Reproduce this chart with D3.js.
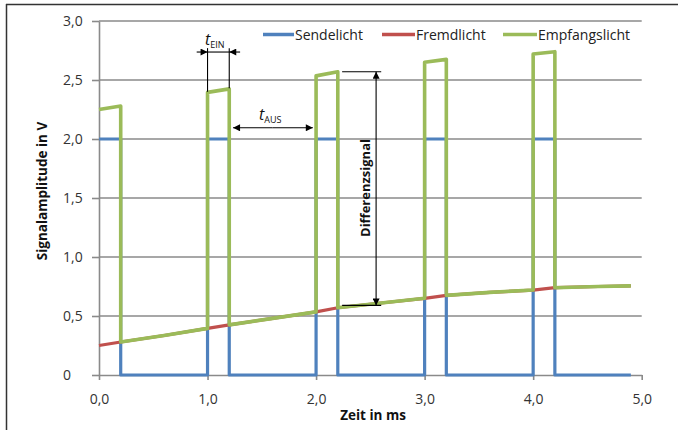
<!DOCTYPE html>
<html><head><meta charset="utf-8">
<script src="https://cdn.jsdelivr.net/npm/d3@7"></script>
<style>
html,body{margin:0;padding:0;background:#fff;}
svg text{font-family:"Open Sans",sans-serif;}
</style></head>
<body><svg id="c" width="678" height="430"></svg>
<script>
// ---- data ----
const seriesNames = ["Sendelicht", "Fremdlicht", "Empfangslicht"];
const seriesColors = ["#4F81BD", "#C0504D", "#9BBB59"];

const sendeT = [0, 0.2, 0.2, 1.0, 1.0, 1.2, 1.2, 2.0, 2.0, 2.2, 2.2, 3.0, 3.0, 3.2, 3.2, 4.0, 4.0, 4.2, 4.2, 4.9];
const sendeV = [2, 2, 0, 0, 2, 2, 0, 0, 2, 2, 0, 0, 2, 2, 0, 0, 2, 2, 0, 0];

const fremdT = [0, 0.2, 0.6, 1.0, 1.2, 1.6, 2.0, 2.2, 2.6, 3.0, 3.2, 3.6, 4.0, 4.2, 4.6, 4.9];
const fremdV = [0.25, 0.28, 0.335, 0.395, 0.425, 0.48, 0.535, 0.57, 0.61, 0.65, 0.675, 0.70, 0.72, 0.74, 0.75, 0.755];

const empfT = [0, 0.2, 0.2, 0.6, 1.0, 1.0, 1.2, 1.2, 1.6, 2.0, 2.0, 2.2, 2.2, 2.6, 3.0, 3.0, 3.2, 3.2, 3.6, 4.0, 4.0, 4.2, 4.2, 4.6, 4.9];
const empfV = [2.25, 2.28, 0.28, 0.335, 0.395, 2.395, 2.425, 0.425, 0.48, 0.535, 2.535, 2.57, 0.57, 0.61, 0.65, 2.65, 2.675, 0.675, 0.70, 0.72, 2.72, 2.74, 0.74, 0.75, 0.755];

const xTicks = [0, 1, 2, 3, 4, 5];
const xTickLabels = ["0,0", "1,0", "2,0", "3,0", "4,0", "5,0"];
const yTicks = [0, 0.5, 1.0, 1.5, 2.0, 2.5, 3.0];
const yTickLabels = ["0", "0,5", "1,0", "1,5", "2,0", "2,5", "3,0"];

const xTitle = "Zeit in ms";
const yTitle = "Signalamplitude in V";

// ---- layout ----
const svg = d3.select("#c");
const L = 99, R = 641.7, T = 21, B = 375;
const x = d3.scaleLinear().domain([0, 5]).range([L, R]);
const y = d3.scaleLinear().domain([0, 3]).range([B, T]);

// outer frame (top + left)
svg.append("line").attr("x1", 6).attr("x2", 678).attr("y1", 4.5).attr("y2", 4.5)
  .attr("stroke", "#333").attr("stroke-width", 1.5);
svg.append("line").attr("x1", 6.5).attr("x2", 6.5).attr("y1", 4).attr("y2", 430)
  .attr("stroke", "#333").attr("stroke-width", 1.5);

// gridlines
const gridColor = "#8a8a8a";
svg.append("g").selectAll("line").data(yTicks.filter(d => d > 0)).join("line")
  .attr("x1", L).attr("x2", R).attr("y1", d => y(d)).attr("y2", d => y(d))
  .attr("stroke", gridColor).attr("stroke-width", 1.6);

// y axis
const yAxis = svg.append("g").attr("transform", `translate(${L},0)`)
  .call(d3.axisLeft(y).tickValues(yTicks).tickSize(7).tickSizeOuter(0)
    .tickFormat((d, i) => yTickLabels[i]));
yAxis.select(".domain").attr("stroke", gridColor).attr("stroke-width", 1.6);
yAxis.selectAll(".tick line").attr("stroke", gridColor).attr("stroke-width", 1.6);
yAxis.selectAll(".tick text").attr("text-anchor", "start").attr("x", 63 - L)
  .attr("font-size", 14).attr("fill", "#333").attr("font-family", "Open Sans");

// x axis
const xAxis = svg.append("g").attr("transform", `translate(0,${B})`)
  .call(d3.axisBottom(x).tickValues(xTicks).tickSize(5).tickSizeOuter(0)
    .tickFormat((d, i) => xTickLabels[i]));
xAxis.select(".domain").attr("stroke", gridColor).attr("stroke-width", 1.6);
xAxis.selectAll(".tick line").attr("stroke", gridColor).attr("stroke-width", 1.6);
xAxis.selectAll(".tick text").attr("y", 19).attr("font-size", 14).attr("fill", "#333")
  .attr("font-family", "Open Sans");

// series
const line = d3.line().x(d => x(d[0])).y(d => y(d[1]));
const series = [
  d3.zip(sendeT, sendeV),
  d3.zip(fremdT, fremdV),
  d3.zip(empfT, empfV)
];
const widths = [3.2, 3.2, 3.6];
series.forEach((s, i) => {
  svg.append("path").datum(s).attr("d", line)
    .attr("fill", "none").attr("stroke", seriesColors[i]).attr("stroke-width", widths[i])
    .attr("stroke-linejoin", "round").attr("stroke-linecap", "butt");
});

// legend
const legendX = [263, 382, 503];
const legendW = [31, 33, 34];
seriesNames.forEach((n, i) => {
  svg.append("line").attr("x1", legendX[i]).attr("x2", legendX[i] + legendW[i])
    .attr("y1", 34.5).attr("y2", 34.5).attr("stroke", seriesColors[i]).attr("stroke-width", 3.5);
  svg.append("text").attr("x", legendX[i] + legendW[i] + 1).attr("y", 39.5)
    .attr("font-size", 14).attr("fill", "#222").text(n);
});

// axis titles
svg.append("text").attr("x", 373).attr("y", 420).attr("text-anchor", "middle")
  .attr("font-size", 13.5).attr("font-weight", "bold").attr("fill", "#111").text(xTitle);
svg.append("text").attr("transform", "translate(47,191) rotate(-90)").attr("text-anchor", "middle")
  .attr("font-size", 13.5).attr("font-weight", "bold").attr("fill", "#111").text(yTitle);

// ---- annotations ----
const defs = svg.append("defs");
defs.append("marker").attr("id", "ah").attr("viewBox", "0 0 10 10").attr("refX", 10).attr("refY", 5)
  .attr("markerWidth", 8).attr("markerHeight", 7).attr("markerUnits", "userSpaceOnUse")
  .attr("orient", "auto").append("path").attr("d", "M0,0 L10,5 L0,10 Z").attr("fill", "#000");

const ann = svg.append("g").attr("stroke", "#000").attr("stroke-width", 1.1);
// t_EIN
ann.append("line").attr("x1", x(1.0)).attr("x2", x(1.0)).attr("y1", y(2.77)).attr("y2", y(2.40));
ann.append("line").attr("x1", x(1.2)).attr("x2", x(1.2)).attr("y1", y(2.77)).attr("y2", y(2.43));
ann.append("line").attr("x1", x(1.0)).attr("x2", x(1.2)).attr("y1", y(2.737)).attr("y2", y(2.737));
ann.append("line").attr("x1", x(0.9)).attr("x2", x(1.0)).attr("y1", y(2.737)).attr("y2", y(2.737))
  .attr("marker-end", "url(#ah)");
ann.append("line").attr("x1", x(1.3)).attr("x2", x(1.2)).attr("y1", y(2.737)).attr("y2", y(2.737))
  .attr("marker-end", "url(#ah)");
// t_AUS
ann.append("line").attr("x1", x(1.6)).attr("x2", x(1.235)).attr("y1", y(2.095)).attr("y2", y(2.095))
  .attr("marker-end", "url(#ah)");
ann.append("line").attr("x1", x(1.6)).attr("x2", x(1.97)).attr("y1", y(2.095)).attr("y2", y(2.095))
  .attr("marker-end", "url(#ah)");
// Differenzsignal
ann.append("line").attr("x1", x(2.24)).attr("x2", x(2.6)).attr("y1", y(2.57)).attr("y2", y(2.57));
ann.append("line").attr("x1", x(2.24)).attr("x2", x(2.6)).attr("y1", y(0.59)).attr("y2", y(0.59));
ann.append("line").attr("x1", x(2.553)).attr("x2", x(2.553)).attr("y1", y(1.5)).attr("y2", y(2.57))
  .attr("marker-end", "url(#ah)");
ann.append("line").attr("x1", x(2.553)).attr("x2", x(2.553)).attr("y1", y(1.5)).attr("y2", y(0.59))
  .attr("marker-end", "url(#ah)");

// labels
const tEin = svg.append("text").attr("x", 205).attr("y", 45).attr("fill", "#111");
tEin.append("tspan").attr("font-size", 16).attr("font-style", "italic").text("t");
tEin.append("tspan").attr("font-size", 9).attr("dy", 3).text("EIN");
const tAus = svg.append("text").attr("x", 259).attr("y", 120).attr("fill", "#111");
tAus.append("tspan").attr("font-size", 16).attr("font-style", "italic").text("t");
tAus.append("tspan").attr("font-size", 9).attr("dy", 3).text("AUS");
svg.append("text").attr("transform", "translate(370,188) rotate(-90)").attr("text-anchor", "middle")
  .attr("font-size", 13).attr("font-weight", "bold").attr("fill", "#111").text("Differenzsignal");
</script></body></html>
